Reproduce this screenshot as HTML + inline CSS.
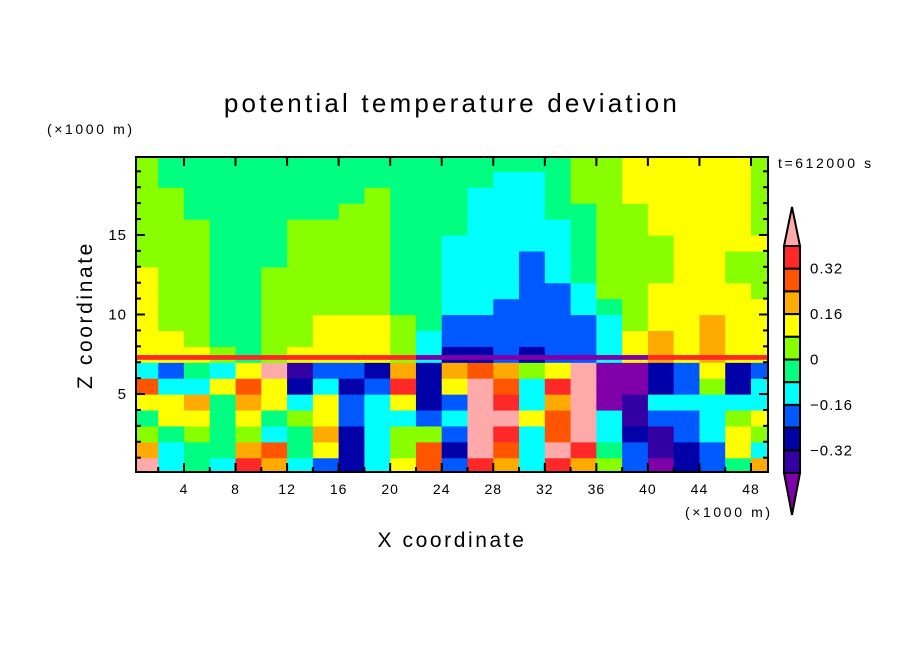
<!DOCTYPE html>
<html><head><meta charset="utf-8"><style>
html,body{margin:0;padding:0;background:#fff;}
svg{display:block;font-family:"Liberation Sans",sans-serif;}
</style></head><body>
<svg id="chart" width="904" height="654" viewBox="0 0 904 654">
<text x="452" y="112" text-anchor="middle" font-size="26" letter-spacing="3.2">potential temperature deviation</text>
<text x="47" y="134" font-size="14" letter-spacing="2.6">(×1000 m)</text>
<text x="778" y="168" font-size="14" letter-spacing="2.6">t=612000 s</text>
<text x="685" y="517" font-size="14" letter-spacing="2.6">(×1000 m)</text>
<text x="452" y="547" text-anchor="middle" font-size="21" letter-spacing="2.6">X coordinate</text>
<text x="0" y="0" transform="translate(92,315) rotate(-90)" text-anchor="middle" font-size="21" letter-spacing="2.6">Z coordinate</text>
<defs><clipPath id="pc"><rect x="136" y="157" width="632" height="315"/></clipPath></defs>
<g id="cells" clip-path="url(#pc)"></g>
<g id="axes"></g>
<g id="cbar"></g>
</svg>
<script>
const xCols = [1,3,5,7,9,11,13,15,17,19,21,23,25,27,29,31,33,35,37,39,41,43,45,47,49];
const zRows = [0.5,1.5,2.5,3.5,4.5,5.5,6.5,7.5,8.5,9.5,10.5,11.5,12.5,13.5,14.5,15.5,16.5,17.5,18.5,19.5];
const field = [
[.45,-.12,-.04,-.12,.36,.2,-.12,-.2,-.28,-.12,.12,.28,-.2,.36,.2,-.12,.36,.2,.04,-.2,-.45,-.28,-.2,-.04,.2],
[.2,-.12,-.04,-.04,.2,.28,-.04,.12,-.28,-.12,.04,.28,-.28,.45,.28,-.12,.45,.36,-.04,-.2,-.36,-.28,-.2,.12,-.12],
[.04,-.04,.04,-.04,.04,-.12,-.04,.2,-.28,-.12,.04,.04,-.2,.45,.36,-.12,.28,.45,-.12,-.28,-.36,-.2,-.12,.12,.04],
[-.04,.12,.12,-.04,.12,-.04,.04,.12,-.2,-.12,-.12,-.2,-.12,.45,.45,.12,.28,.45,-.12,-.36,-.2,-.2,-.12,.04,.12],
[.12,.12,.2,-.04,.2,.12,-.12,.12,-.2,-.12,.12,-.28,-.2,.45,.36,-.12,.2,.45,-.45,-.36,-.12,-.12,-.12,-.12,-.12],
[.28,-.12,-.12,.12,.28,.12,-.28,-.12,-.28,-.2,.36,-.28,.12,.45,.28,-.12,.36,.45,-.45,-.45,-.28,-.2,.04,-.28,-.12],
[-.12,-.2,-.04,-.12,.12,.45,-.36,-.2,-.2,-.28,.2,-.28,.2,.28,.2,.04,.12,.45,-.45,-.45,-.28,-.2,.12,-.28,-.2],
[.12,.12,.12,.04,-.04,.04,.12,.12,.12,.12,.04,-.12,-.28,-.28,-.2,-.28,-.2,-.2,-.12,.12,.2,.12,.2,.12,.12],
[.12,.12,.04,-.04,-.04,.04,.04,.12,.12,.12,.04,-.12,-.2,-.2,-.2,-.2,-.2,-.2,-.12,.12,.2,.12,.2,.12,.12],
[.12,.04,.04,-.04,-.04,.04,.04,.12,.12,.12,.04,-.04,-.2,-.2,-.2,-.2,-.2,-.2,-.12,.04,.12,.12,.2,.12,.12],
[.12,.04,.04,-.04,-.04,.04,.04,.04,.04,.04,-.04,-.04,-.12,-.12,-.2,-.2,-.2,-.12,-.04,.04,.12,.12,.12,.12,.12],
[.12,.04,.04,-.04,-.04,.04,.04,.04,.04,.04,-.04,-.04,-.12,-.12,-.12,-.2,-.2,-.12,.04,.04,.12,.12,.12,.12,.04],
[.12,.04,.04,-.04,-.04,.04,.04,.04,.04,.04,-.04,-.04,-.12,-.12,-.12,-.2,-.12,-.04,.04,.04,.04,.12,.12,.04,.04],
[.04,.04,.04,-.04,-.04,-.04,.04,.04,.04,.04,-.04,-.04,-.12,-.12,-.12,-.2,-.12,-.04,.04,.04,.04,.12,.12,.04,.04],
[.04,.04,.04,-.04,-.04,-.04,.04,.04,.04,.04,-.04,-.04,-.12,-.12,-.12,-.12,-.12,-.04,.04,.04,.04,.12,.12,.12,.12],
[.04,.04,.04,-.04,-.04,-.04,.04,.04,.04,.04,-.04,-.04,-.04,-.12,-.12,-.12,-.12,-.04,.04,.04,.12,.12,.12,.12,.04],
[.04,.04,-.04,-.04,-.04,-.04,-.04,-.04,.04,.04,-.04,-.04,-.04,-.12,-.12,-.12,-.04,-.04,.04,.04,.12,.12,.12,.12,.04],
[.04,.04,-.04,-.04,-.04,-.04,-.04,-.04,-.04,.04,-.04,-.04,-.04,-.12,-.12,-.12,-.04,.04,.04,.12,.12,.12,.12,.12,.04],
[.04,-.04,-.04,-.04,-.04,-.04,-.04,-.04,-.04,-.04,-.04,-.04,-.04,-.04,-.12,-.12,-.04,.04,.04,.12,.12,.12,.12,.12,.04],
[.04,-.04,-.04,-.04,-.04,-.04,-.04,-.04,-.04,-.04,-.04,-.04,-.04,-.04,-.04,-.04,-.04,.04,.04,.12,.12,.12,.12,.12,.04]
];
const stripZ = [7.15, 7.45];
const stripValues = [.36,.36,.36,.36,.36,.36,.36,.36,.36,.36,.36,-.45,-.45,-.45,-.45,-.45,-.45,-.45,-.45,-.45,.36,.36,.36,.36,.36];
const xTicks = [4,8,12,16,20,24,28,32,36,40,44,48];
const zTicks = [5,10,15];
const cbarLabels = ["0.32","0.16","0","\u22120.16","\u22120.32"];
const cbarLabelValues = [0.32,0.16,0,-0.16,-0.32];
const palette = ["#7f00a8","#3300a3","#0000a8","#0058ff","#00ffff","#00ff80","#88ff00","#ffff00","#ffaa00","#ff5500","#ff2828","#ffaaaa"];

const NS = "http://www.w3.org/2000/svg";
const X0 = 136, X1 = 768, Y0 = 157, Y1 = 472;
const xMin = 0.275, xMax = 49.32, zMin = 0.1, zMax = 19.9;
function xs(v){ return X0 + (v - xMin) / (xMax - xMin) * (X1 - X0); }
function zs(v){ return Y1 - (v - zMin) / (zMax - zMin) * (Y1 - Y0); }
function level(v){ let i = Math.floor(v / 0.08) + 6; return Math.max(0, Math.min(11, i)); }
function mk(tag, attrs, parent){ const e = document.createElementNS(NS, tag); for (const k in attrs) e.setAttribute(k, attrs[k]); parent.appendChild(e); return e; }

const gC = document.getElementById("cells");
const dx = 2, dz = 1;
field.forEach((row, ri) => {
  row.forEach((v, ci) => {
    const xa = xs(xCols[ci] - dx/2), xb = xs(xCols[ci] + dx/2);
    const za = zs(zRows[ri] + dz/2), zb = zs(zRows[ri] - dz/2);
    const r = mk("rect", {x: xa, y: za, width: xb - xa + 0.6, height: zb - za + 0.6, fill: palette[level(v)]}, gC);
    
    
  });
});
stripValues.forEach((v, ci) => {
  const xa = xs(xCols[ci] - dx/2), xb = xs(xCols[ci] + dx/2);
  const r = mk("rect", {x: xa, y: zs(stripZ[1]), width: xb - xa + 0.6, height: zs(stripZ[0]) - zs(stripZ[1]), fill: palette[level(v)]}, gC);
  
  
});

const gA = document.getElementById("axes");
const frame = mk("rect", {x: X0, y: Y0, width: X1 - X0, height: Y1 - Y0, fill: "none", stroke: "#000", "stroke-width": 2}, gA);


for (let t = 2; t < 50; t += 2) {
  const major = xTicks.indexOf(t) >= 0;
  const L = major ? 9 : 5;
  mk("line", {x1: xs(t), x2: xs(t), y1: Y1, y2: Y1 - L, stroke: "#000", "stroke-width": 2}, gA);
  if (major) mk("line", {x1: xs(t), x2: xs(t), y1: Y0, y2: Y0 + L, stroke: "#000", "stroke-width": 2}, gA);
}
xTicks.forEach(t => {
  const tx = mk("text", {x: xs(t), y: Y1 + 22, "text-anchor": "middle", "font-size": 14, "letter-spacing": 1}, gA);
  tx.textContent = t;
  
  
});
for (let t = 1; t < 20; t++) {
  const major = zTicks.indexOf(t) >= 0;
  const L = major ? 9 : 5;
  mk("line", {x1: X0, x2: X0 + L, y1: zs(t), y2: zs(t), stroke: "#000", "stroke-width": 2}, gA);
  mk("line", {x1: X1, x2: X1 - L, y1: zs(t), y2: zs(t), stroke: "#000", "stroke-width": 2}, gA);
}
zTicks.forEach(t => {
  const tx = mk("text", {x: X0 - 9, y: zs(t) + 5, "text-anchor": "end", "font-size": 15, "letter-spacing": 1}, gA);
  tx.textContent = t;
  
  
});

const gB = document.getElementById("cbar");
const bx = 784, bw = 16, bTop = 246, bh = 22.7;
function cy(v){ return bTop + (0.4 - v) / 0.08 * bh; }
for (let i = 10; i >= 1; i--) {
  const vTop = (i - 5) * 0.08;
  const r = mk("rect", {x: bx, y: cy(vTop), width: bw, height: bh, fill: palette[i], stroke: "#000", "stroke-width": 2}, gB);
  
  
}
const tt = mk("polygon", {points: `${bx},${bTop} ${bx+bw},${bTop} ${bx+bw/2},${bTop-39}`, fill: palette[11], stroke: "#000", "stroke-width": 2}, gB);


const bb = cy(-0.4);
const bt = mk("polygon", {points: `${bx},${bb} ${bx+bw},${bb} ${bx+bw/2},${bb+42}`, fill: palette[0], stroke: "#000", "stroke-width": 2}, gB);


cbarLabels.forEach((s, i) => {
  const tx = mk("text", {x: 810, y: cy(cbarLabelValues[i]) + 5, "font-size": 15, "letter-spacing": 1}, gB);
  tx.textContent = s;
  
  
});
</script>
</body></html>
